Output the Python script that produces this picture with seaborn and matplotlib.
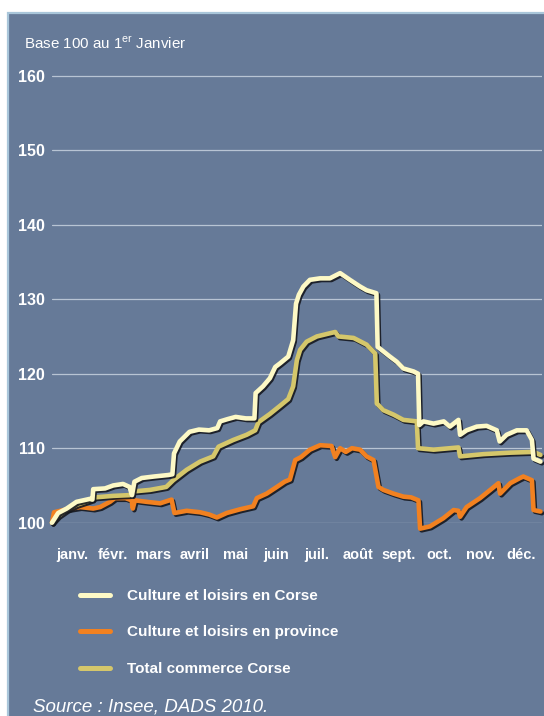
import matplotlib
matplotlib.use("Agg")
import numpy as np
import pandas as pd
import matplotlib.pyplot as plt
import seaborn as sns
from matplotlib import patheffects as pe
from matplotlib.patches import Rectangle
from matplotlib.lines import Line2D

# ---- data (x = position in months from 1 January, y = index base 100) ----
months = ["janv.", "févr.", "mars", "avril", "mai", "juin",
          "juil.", "août", "sept.", "oct.", "nov.", "déc."]
yticks = [100, 110, 120, 130, 140, 150, 160]

corse_x = [0, 0.15, 0.36, 0.6, 0.93, 0.99, 1.01, 1.3, 1.5, 1.74, 1.9, 1.96, 2.02,
           2.2, 2.5, 2.85, 2.95, 2.99, 3.13, 3.37, 3.6, 3.85, 4.05, 4.12, 4.3, 4.5,
           4.75, 4.96, 4.99, 5.17, 5.34, 5.47, 5.59, 5.79, 5.91, 5.98, 6.05, 6.16,
           6.32, 6.57, 6.81, 7.06, 7.3, 7.55, 7.71, 7.95, 7.98, 8.12, 8.28, 8.45,
           8.61, 8.86, 8.97, 9.0, 9.1, 9.35, 9.6, 9.75, 9.96, 10.0, 10.16, 10.41,
           10.65, 10.9, 10.97, 11.14, 11.39, 11.63, 11.76, 11.8, 11.97]
corse_y = [100.0, 101.3, 101.9, 102.8, 103.2, 103.1, 104.5, 104.6, 105.0, 105.2,
           104.8, 103.7, 105.5, 106.0, 106.2, 106.4, 106.5, 109.3, 110.9, 112.2,
           112.5, 112.4, 112.7, 113.6, 113.9, 114.2, 114.0, 114.0, 117.4, 118.3,
           119.4, 120.9, 121.4, 122.3, 124.5, 129.4, 130.6, 131.7, 132.6, 132.8,
           132.8, 133.5, 132.6, 131.7, 131.2, 130.8, 123.6, 123.0, 122.3, 121.6,
           120.7, 120.3, 120.0, 113.1, 113.6, 113.3, 113.6, 112.9, 113.8, 111.8,
           112.4, 112.9, 113.0, 112.4, 110.9, 111.8, 112.4, 112.4, 111.1, 108.6,
           108.2]

province_x = [0, 0.05, 0.36, 0.69, 1.01, 1.18, 1.42, 1.54, 1.8, 1.95, 1.98, 2.03,
              2.32, 2.65, 2.93, 3.0, 3.3, 3.63, 3.85, 4.04, 4.28, 4.61, 4.93, 5.02,
              5.26, 5.51, 5.7, 5.83, 5.96, 6.1, 6.32, 6.57, 6.85, 6.94, 7.06, 7.2,
              7.35, 7.55, 7.71, 7.88, 8.0, 8.12, 8.37, 8.61, 8.8, 8.98, 9.02, 9.26,
              9.59, 9.84, 9.96, 10.0, 10.16, 10.49, 10.74, 10.94, 10.98, 11.23,
              11.47, 11.55, 11.76, 11.8, 11.97]
province_y = [100.0, 101.4, 101.8, 102.1, 101.9, 102.1, 102.8, 103.3, 103.3, 103.0,
              101.9, 103.0, 102.8, 102.6, 103.1, 101.3, 101.6, 101.4, 101.1, 100.7,
              101.3, 101.8, 102.2, 103.3, 103.9, 104.8, 105.5, 105.8, 108.4, 108.8,
              109.8, 110.4, 110.3, 108.8, 110.0, 109.5, 110.0, 109.8, 108.9, 108.4,
              104.8, 104.4, 103.9, 103.5, 103.4, 103.0, 99.2, 99.5, 100.6, 101.7,
              101.6, 100.8, 102.1, 103.3, 104.4, 105.3, 103.9, 105.3, 106.0, 106.2,
              105.7, 101.7, 101.5]

commerce_x = [0, 0.15, 0.36, 0.6, 0.93, 1.05, 1.5, 1.9, 2.0, 2.4, 2.8, 2.97, 3.3,
              3.63, 3.95, 4.08, 4.44, 4.77, 4.98, 5.06, 5.34, 5.59, 5.79, 5.91, 6.0,
              6.08, 6.24, 6.49, 6.94, 7.02, 7.39, 7.71, 7.92, 7.96, 8.12, 8.37, 8.61,
              8.94, 8.97, 9.35, 9.96, 10.0, 10.57, 11.23, 11.8, 11.97]
commerce_y = [100.0, 100.9, 101.7, 102.4, 103.0, 103.4, 103.6, 103.7, 104.2, 104.4,
              104.8, 105.7, 107.1, 108.2, 108.9, 110.2, 111.1, 111.8, 112.4, 113.5,
              114.6, 115.7, 116.6, 118.3, 121.8, 123.2, 124.3, 125.0, 125.6, 125.0,
              124.8, 123.9, 122.7, 116.0, 115.1, 114.5, 113.8, 113.6, 110.0, 109.8,
              110.1, 108.9, 109.2, 109.4, 109.5, 109.1]

series = [
    ("Culture et loisirs en Corse", corse_x, corse_y, "#fdf9c6"),
    ("Culture et loisirs en province", province_x, province_y, "#f28120"),
    ("Total commerce Corse", commerce_x, commerce_y, "#d5c76b"),
]

# ---- style ----
sns.set_theme(style="white")
FONT = ["Liberation Sans", "DejaVu Sans"]
plt.rcParams["font.family"] = FONT
plt.rcParams["mathtext.fontset"] = "custom"
plt.rcParams["mathtext.rm"] = "Liberation Sans"

PANEL = "#667a98"
GRID = "#b8c4d4"
W, H = 544, 716

fig = plt.figure(figsize=(W / 100, H / 100), dpi=100, facecolor="white")
panel = Rectangle((8 / W, -0.01), 1.0, (H - 13) / H + 0.01,
                  transform=fig.transFigure, facecolor=PANEL,
                  edgecolor="#a9c6da", lw=1.6, zorder=-10)
fig.add_artist(panel)

y0_px, y1_px = 522.7, 60.8          # pixel rows of 100 and 162
ax = fig.add_axes([52 / W, 1 - y0_px / H, 489.7 / W, (y0_px - y1_px) / H])
ax.set_facecolor("none")
ax.set_zorder(1)
ax.set_xlim(0, 12)
ax.set_ylim(100, 162)

for v in yticks:
    ax.axhline(v, color=GRID, lw=0.9, zorder=0.5)

draw_order = [1, 2, 0]
for i in draw_order:
    label, xs, ys, col = series[i]
    df = pd.DataFrame({"x": xs, "y": ys})
    sns.lineplot(data=df, x="x", y="y", ax=ax, color=col, lw=3.3,
                 sort=False, estimator=None, legend=False)
    ln = ax.lines[-1]
    ln.set_clip_on(False)
    ln.set_solid_joinstyle("round")
    ln.set_solid_capstyle("round")
    ln.set_zorder(3 + draw_order.index(i))
    ln.set_path_effects([pe.SimpleLineShadow(offset=(1.1, -1.2), shadow_color="#15181f", alpha=0.9),
                         pe.Normal()])

for s in ax.spines.values():
    s.set_visible(False)

ax.set_xlabel("")
ax.set_ylabel("")
ax.set_yticks(yticks)
ax.set_yticklabels([str(v) for v in yticks], fontsize=11.5, fontweight="bold", color="white")
ax.tick_params(axis="y", length=0, pad=5)

ax.set_xticks(np.arange(1, 13))
ax.set_xticklabels([])
ax.set_xticks(np.arange(12) + 0.5, minor=True)
ax.set_xticklabels(months, minor=True, fontsize=10.5, fontweight="bold", color="white")
ax.tick_params(axis="x", which="major", direction="in", length=4, width=0.9, color=GRID)
ax.tick_params(axis="x", which="minor", length=0, pad=18)

fig.text(24 / W, 1 - 48.6 / H, r"Base 100 au 1$^{\mathrm{er}}$ Janvier", fontsize=10.9,
         color="white", va="baseline", ha="left")

handles = [Line2D([0], [0], color=c, lw=3.6, solid_capstyle="round") for _, _, _, c in series]
labels = [s[0] for s in series]
leg = fig.legend(handles, labels, loc="upper left", bbox_to_anchor=(80 / W, 1 - 589 / H),
                 frameon=False, borderpad=0, borderaxespad=0, handlelength=1.96,
                 handletextpad=1.1, labelspacing=1.47,
                 prop={"family": FONT, "weight": "bold", "size": 11})
for t in leg.get_texts():
    t.set_color("white")

fig.text(33 / W, 1 - 712 / H, "Source : Insee, DADS 2010.", fontsize=13.5, style="italic",
         color="white", va="baseline", ha="left")

fig.savefig("out.png", dpi=100, facecolor="white")
